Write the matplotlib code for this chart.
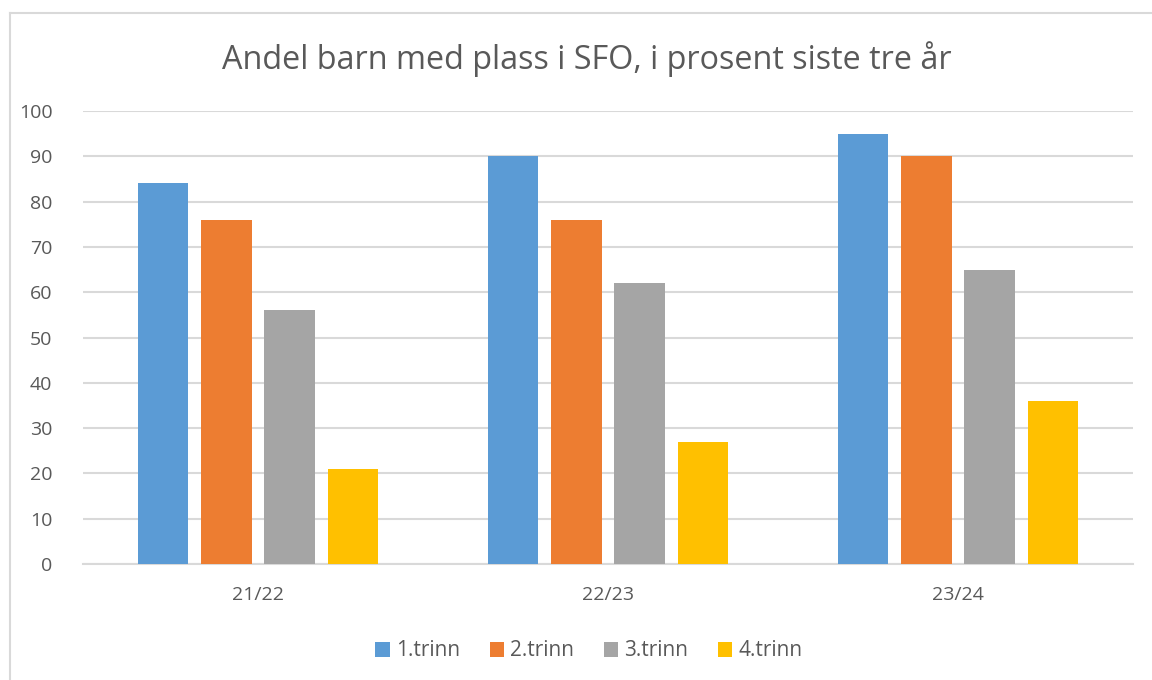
import numpy as np
import matplotlib
matplotlib.use("Agg")
import matplotlib.pyplot as plt
from matplotlib.lines import Line2D

# data
years = ["21/22", "22/23", "23/24"]
series_names = ["1.trinn", "2.trinn", "3.trinn", "4.trinn"]
trinn1 = [84, 90, 95]
trinn2 = [76, 76, 90]
trinn3 = [56, 62, 65]
trinn4 = [21, 27, 36]

colors = ["#5B9BD5", "#ED7D31", "#A5A5A5", "#FFC000"]
text_color = "#595959"
grid_color = "#D9D9D9"

plt.rcParams["font.family"] = ["Open Sans", "DejaVu Sans"]

fig = plt.figure(figsize=(11.52, 6.8), dpi=100)
ax = fig.add_axes([83 / 1152, 1 - 564 / 680, 1050 / 1152, 453 / 680])

x = np.arange(len(years))
step = 0.181
width = 0.144
for i, (name, vals) in enumerate(zip(series_names, [trinn1, trinn2, trinn3, trinn4])):
    ax.bar(x + (i - 1.5) * step, vals, width=width, color=colors[i],
           label=name, zorder=3)

ax.set_xlim(-0.5, 2.5)
ax.set_ylim(0, 100)
ax.set_yticks(range(0, 101, 10))
ax.set_xticks(x)
ax.set_xticklabels(years)

ax.grid(axis="y", color=grid_color, linewidth=1.5, zorder=0)
for side in ["top", "right", "left"]:
    ax.spines[side].set_visible(False)
ax.spines["bottom"].set_color(grid_color)
ax.spines["bottom"].set_linewidth(1.5)
ax.spines["bottom"].set_zorder(0)

ax.tick_params(axis="both", length=0, labelsize=14, labelcolor=text_color)
ax.tick_params(axis="x", pad=16)
ax.tick_params(axis="y", pad=22)

fig.text(0.509, 1 - 59 / 680, "Andel barn med plass i SFO, i prosent siste tre år",
         ha="center", va="center", fontsize=23.3, color=text_color)

ax.legend(loc="center", bbox_to_anchor=(589 / 1152, 1 - 651 / 680),
          bbox_transform=fig.transFigure, ncols=4, frameon=False,
          fontsize=15, labelcolor=text_color, handlelength=0.7,
          handleheight=0.7, handletextpad=0.3, columnspacing=1.4)

# chart border
fig.add_artist(Line2D([10 / 1152, 10 / 1152], [0, 1 - 13 / 680],
                      transform=fig.transFigure, color=grid_color, linewidth=1.5))
fig.add_artist(Line2D([10 / 1152, 1], [1 - 13 / 680, 1 - 13 / 680],
                      transform=fig.transFigure, color=grid_color, linewidth=1.5))

plt.savefig("out.png", dpi=100)
plt.close()
